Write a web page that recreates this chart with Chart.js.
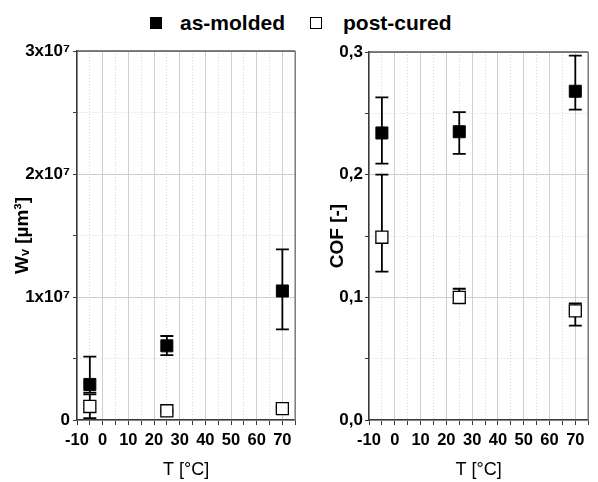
<!DOCTYPE html>
<html>
<head>
<meta charset="utf-8">
<script src="https://cdn.jsdelivr.net/npm/chart.js@4.4.0/dist/chart.umd.min.js"></script>
<style>
  html, body { margin:0; padding:0; background:#fff; }
  body { width:598px; height:482px; overflow:hidden; position:relative; font-family:"Liberation Sans", Arial, sans-serif; }
  #c1 { position:absolute; left:0; top:0; }
  #c2 { position:absolute; left:305px; top:0; }
  .lg-box { position:absolute; top:17px; width:12px; height:12px; box-sizing:border-box; }
  .lg-txt { position:absolute; top:12px; font-weight:bold; font-size:21px; line-height:21px; color:#000; white-space:nowrap; }
</style>
</head>
<body>
<div class="lg-box" style="left:150px;background:#000;"></div>
<div class="lg-txt" style="left:180px;">as-molded</div>
<div class="lg-box" style="left:310px;background:#fff;border:1px solid #000;"></div>
<div class="lg-txt" style="left:343px;">post-cured</div>
<canvas id="c1" width="305" height="482"></canvas>
<canvas id="c2" width="293" height="482"></canvas>
<script>
// ---- data ----
const temps = [-5, 25, 70];
const xTickValues = [-10, 0, 10, 20, 30, 40, 50, 60, 70];

const wvMolded     = [2.89e6, 6.03e6, 10.49e6];
const wvMoldedLow  = [2.22e6, 5.28e6, 7.37e6];
const wvMoldedHigh = [5.15e6, 6.83e6, 13.87e6];
const wvCured      = [1.10e6, 0.75e6, 0.93e6];
const wvCuredLow   = [0.16e6, 0.66e6, 0.84e6];
const wvCuredHigh  = [2.09e6, 0.84e6, 1.02e6];
const wvTickLabels = ['0', '1x10\u2077', '2x10\u2077', '3x10\u2077'];

const cofMolded     = [0.234, 0.235, 0.268];
const cofMoldedLow  = [0.209, 0.217, 0.253];
const cofMoldedHigh = [0.263, 0.251, 0.297];
const cofCured      = [0.149, 0.100, 0.089];
const cofCuredLow   = [0.121, 0.095, 0.077];
const cofCuredHigh  = [0.200, 0.107, 0.095];
const cofTickLabels = ['0,0', '0,1', '0,2', '0,3'];

const FONT = '"Liberation Sans", Arial, sans-serif';
const AXIS = '#3a3a3a';

const errPlugin = {
  id: 'errbars',
  beforeDatasetsDraw(chart) {
    const ctx = chart.ctx, xs = chart.scales.x, ys = chart.scales.y;
    ctx.save();
    ctx.strokeStyle = '#000';
    ctx.lineWidth = 1.8;
    chart.data.datasets.forEach(ds => {
      ds.data.forEach((p, j) => {
        const x = xs.getPixelForValue(p.x);
        const y1 = ys.getPixelForValue(ds.errLow[j]);
        const y2 = ys.getPixelForValue(ds.errHigh[j]);
        ctx.beginPath();
        ctx.moveTo(x, y1); ctx.lineTo(x, y2);
        ctx.moveTo(x - 6.5, y1); ctx.lineTo(x + 6.5, y1);
        ctx.moveTo(x - 6.5, y2); ctx.lineTo(x + 6.5, y2);
        ctx.stroke();
      });
    });
    ctx.restore();
  }
};

const framePlugin = {
  id: 'frame',
  afterDraw(chart) {
    const {ctx, chartArea: a} = chart;
    ctx.save();
    ctx.lineWidth = 1.5;
    ctx.strokeStyle = '#555';
    ctx.beginPath(); ctx.moveTo(a.left, a.top); ctx.lineTo(a.right, a.top); ctx.stroke();
    ctx.strokeStyle = '#7a7a7a';
    ctx.beginPath(); ctx.moveTo(a.right, a.top); ctx.lineTo(a.right, a.bottom); ctx.stroke();
    ctx.restore();
  }
};

function isMajorX(v) { return xTickValues.indexOf(Math.round(v)) >= 0; }

function build(id, c) {
  return new Chart(document.getElementById(id), {
    type: 'scatter',
    data: {
      datasets: [
        { label: 'as-molded', data: temps.map((t, i) => ({x: t, y: c.molded[i]})),
          errLow: c.moldedLow, errHigh: c.moldedHigh,
          pointStyle: 'rect', pointRadius: 8.5, pointHoverRadius: 8.5,
          backgroundColor: '#000', borderColor: '#000', borderWidth: 1 },
        { label: 'post-cured', data: temps.map((t, i) => ({x: t, y: c.cured[i]})),
          errLow: c.curedLow, errHigh: c.curedHigh,
          pointStyle: 'rect', pointRadius: 8.5, pointHoverRadius: 8.5,
          backgroundColor: '#fff', borderColor: '#000', borderWidth: 1.3 }
      ]
    },
    options: {
      responsive: false, animation: false, events: [],
      layout: { padding: c.padding },
      plugins: { legend: { display: false }, tooltip: { enabled: false } },
      scales: {
        x: {
          type: 'linear', min: -10, max: 75,
          afterFit: s => { s.height = 62; },
          border: { color: AXIS, width: 1.5,
                    dash: ctx => (ctx.tick && !isMajorX(ctx.tick.value)) ? [1, 2] : [] },
          grid: { color: ctx => (ctx.tick && isMajorX(ctx.tick.value)) ? '#cfcfcf' : '#d6d6d6',
                  lineWidth: 1, tickLength: 5, tickColor: AXIS, tickWidth: 1 },
          ticks: { stepSize: 5, autoSkip: false, maxRotation: 0, padding: 6, color: '#000',
                   font: { family: FONT, size: 16.5, weight: 'bold' },
                   callback: v => isMajorX(v) ? String(Math.round(v)) : '' },
          title: { display: true, text: 'T [°C]', color: '#000',
                   font: { family: FONT, size: 18, weight: 'normal' },
                   padding: { top: 0, bottom: 1 } }
        },
        y: {
          type: 'linear', min: 0, max: c.ymax,
          afterFit: s => { s.width = c.yWidth; },
          border: { color: AXIS, width: 1.5,
                    dash: ctx => (ctx.tick && Math.round(ctx.tick.value / c.ystep) % 2 !== 0) ? [1, 2] : [] },
          grid: { color: ctx => (ctx.tick && Math.round(ctx.tick.value / c.ystep) % 2 === 0) ? '#cfcfcf' : '#d6d6d6',
                  lineWidth: 1, tickLength: 4, tickColor: AXIS, tickWidth: 1 },
          ticks: { stepSize: c.ystep, autoSkip: false, padding: c.yPad, color: '#000',
                   font: { family: FONT, size: 17, weight: 'bold' },
                   callback: v => { const k = Math.round(v / c.ystep); return k % 2 === 0 ? c.labels[k / 2] : ''; } },
          title: { display: true, text: c.ytitle, color: '#000',
                   font: { family: FONT, size: 19, weight: 'bold' },
                   padding: { top: c.titlePad, bottom: 0 } }
        }
      }
    },
    plugins: [errPlugin, framePlugin]
  });
}

build('c1', {
  molded: wvMolded, moldedLow: wvMoldedLow, moldedHigh: wvMoldedHigh,
  cured: wvCured, curedLow: wvCuredLow, curedHigh: wvCuredHigh,
  ymax: 3e7, ystep: 5e6, labels: wvTickLabels, ytitle: 'W\u1D65 [µm³]',
  yWidth: 77, yPad: 3, titlePad: 11,
  padding: { left: 0, right: 3.5, top: 51, bottom: 0 }
});
build('c2', {
  molded: cofMolded, moldedLow: cofMoldedLow, moldedHigh: cofMoldedHigh,
  cured: cofCured, curedLow: cofCuredLow, curedHigh: cofCuredHigh,
  ymax: 0.3, ystep: 0.05, labels: cofTickLabels, ytitle: 'COF [-]',
  yWidth: 64, yPad: 2, titlePad: 21,
  padding: { left: 0, right: 5, top: 52, bottom: 0 }
});
</script>
</body>
</html>
